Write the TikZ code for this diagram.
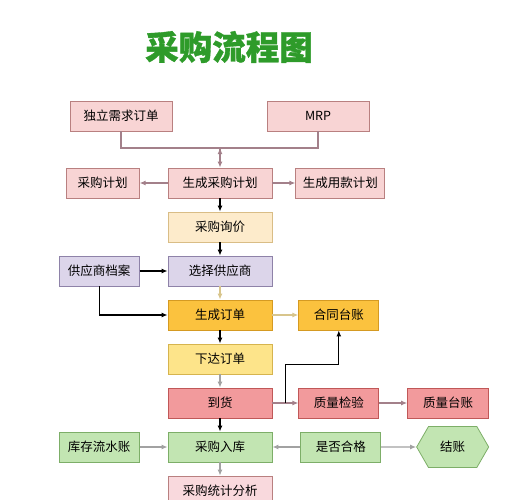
\documentclass[tikz,border=0pt]{standalone}
\usepackage{fontspec}
\newfontfamily\cjk{Noto Sans CJK SC}
\newfontfamily\titlefont{Noto Sans CJK SC}[BoldFeatures={FakeBold=1}]
\usetikzlibrary{positioning, arrows.meta, calc, shapes.symbols}
\tikzstyle{stepbox} =[draw, line width=0.8pt, minimum height=30pt, inner sep=2pt, font=\cjk\fontsize{12.5}{14}\selectfont]
\definecolor{pinkFill}{HTML}{F8D4D4}
\definecolor{pinkLine}{HTML}{B98080}
\definecolor{creamFill}{HTML}{FDEBCB}
\definecolor{creamLine}{HTML}{D9BD86}
\definecolor{lilacFill}{HTML}{DCD5EA}
\definecolor{lilacLine}{HTML}{8E82A8}
\definecolor{amberFill}{HTML}{FBC23E}
\definecolor{amberLine}{HTML}{D59A22}
\definecolor{lemonFill}{HTML}{FDE48A}
\definecolor{lemonLine}{HTML}{D6B44E}
\definecolor{redFill}{HTML}{F29A9C}
\definecolor{redLine}{HTML}{C05858}
\definecolor{leafFill}{HTML}{C2E5B2}
\definecolor{leafLine}{HTML}{7DAE68}
\definecolor{roseFill}{HTML}{F9D9DD}
\definecolor{mauveArrow}{HTML}{A3808A}
\definecolor{tanArrow}{HTML}{D8C58C}
\definecolor{grayArrow}{HTML}{A2A2A2}
\definecolor{titleGreen}{HTML}{2E9B2A}

\begin{document}
\begin{tikzpicture}[x=1pt, y=-1pt]
\useasboundingbox (0,0) rectangle (511,500);

\node (title) [font=\titlefont\bfseries\fontsize{33.5}{38}\selectfont, text=titleGreen] at (229,47) {采购流程图};

\node (indep) [stepbox, fill=pinkFill, draw=pinkLine, minimum width=102pt] at (121,116) {独立需求订单};
\node (mrp) [stepbox, fill=pinkFill, draw=pinkLine, minimum width=102pt] at (318,116) {MRP};

\node (gen) [stepbox, fill=pinkFill, draw=pinkLine, minimum width=104pt] at (220,183) {生成采购计划};
\node (plan) [stepbox, fill=pinkFill, draw=pinkLine, minimum width=73pt, left=28pt of gen] {采购计划};
\node (fund) [stepbox, fill=pinkFill, draw=pinkLine, minimum width=89pt, right=23pt of gen] {生成用款计划};

\node (inquiry) [stepbox, fill=creamFill, draw=creamLine, minimum width=104pt, below=13.2pt of gen] {采购询价};

\node (select) [stepbox, fill=lilacFill, draw=lilacLine, minimum width=104pt, below=13.2pt of inquiry] {选择供应商};
\node (supp) [stepbox, fill=lilacFill, draw=lilacLine, minimum width=80pt, left=28pt of select] {供应商档案};

\node (order) [stepbox, fill=amberFill, draw=amberLine, minimum width=104pt, below=13.2pt of select] {生成订单};
\node (contract) [stepbox, fill=amberFill, draw=amberLine, minimum width=80pt, right=26pt of order] {合同台账};

\node (issue) [stepbox, fill=lemonFill, draw=lemonLine, minimum width=104pt, below=13.2pt of order] {下达订单};

\node (goods) [stepbox, fill=redFill, draw=redLine, minimum width=104pt, below=13.2pt of issue] {到货};
\node (check) [stepbox, fill=redFill, draw=redLine, minimum width=80pt, right=26pt of goods] {质量检验};
\node (qledger) [stepbox, fill=redFill, draw=redLine, minimum width=81pt, right=28pt of check] {质量台账};

\node (stockin) [stepbox, fill=leafFill, draw=leafLine, minimum width=104pt, below=13.2pt of goods] {采购入库};
\node (flow) [stepbox, fill=leafFill, draw=leafLine, minimum width=80pt, left=28pt of stockin] {库存流水账};
\node (pass) [stepbox, fill=leafFill, draw=leafLine, minimum width=80pt, right=28pt of stockin] {是否合格};
\node (settle) [stepbox, signal, signal to=west and east, signal pointer angle=120, fill=leafFill, draw=leafLine, minimum width=72pt, minimum height=41pt, right=35pt of pass] {结账};

\node (stats) [stepbox, fill=roseFill, draw=pinkLine, minimum width=104pt, below=13.2pt of stockin] {采购统计分析};

\coordinate (join) at (220,148);
\draw[line width=1.2pt, mauveArrow]
	(indep.south) |- (join) -| (mrp.south);
\draw[-{Latex[length=6pt,width=5pt]}, line width=1.2pt, mauveArrow]
	(join) edge (gen)
	(gen) edge (plan)
	(gen) edge (fund);

\draw[-{Latex[length=6pt,width=5pt]}, line width=1.2pt, black]
	(gen) edge (inquiry)
	(inquiry) edge (select)
	(supp) edge (select)
	(order) edge (issue)
	(goods) edge (stockin);

\draw[-{Latex[length=6pt,width=5pt]}, line width=1.2pt, black]
	(supp.south) |- (order.west);

\draw[-{Latex[length=6pt,width=5pt]}, line width=1.2pt, tanArrow]
	(select) edge (order)
	(order) edge (contract);

\draw[-{Latex[length=6pt,width=5pt]}, line width=1.2pt, grayArrow]
	(issue) edge (goods)
	(flow) edge (stockin)
	(pass) edge (stockin)
	(pass) edge (settle)
	(stockin) edge (stats);

\draw[-{Latex[length=6pt,width=5pt]}, line width=1.2pt, mauveArrow]
	(goods) edge (check)
	(check) edge (qledger);

\coordinate (split) at ($(goods.east)+(13,0)$);
\draw[-{Latex[length=6pt,width=5pt]}, line width=1.2pt, black]
	(split) |- ($(contract.south)+(0,34)$) -- (contract.south);
\end{tikzpicture}
\end{document}
